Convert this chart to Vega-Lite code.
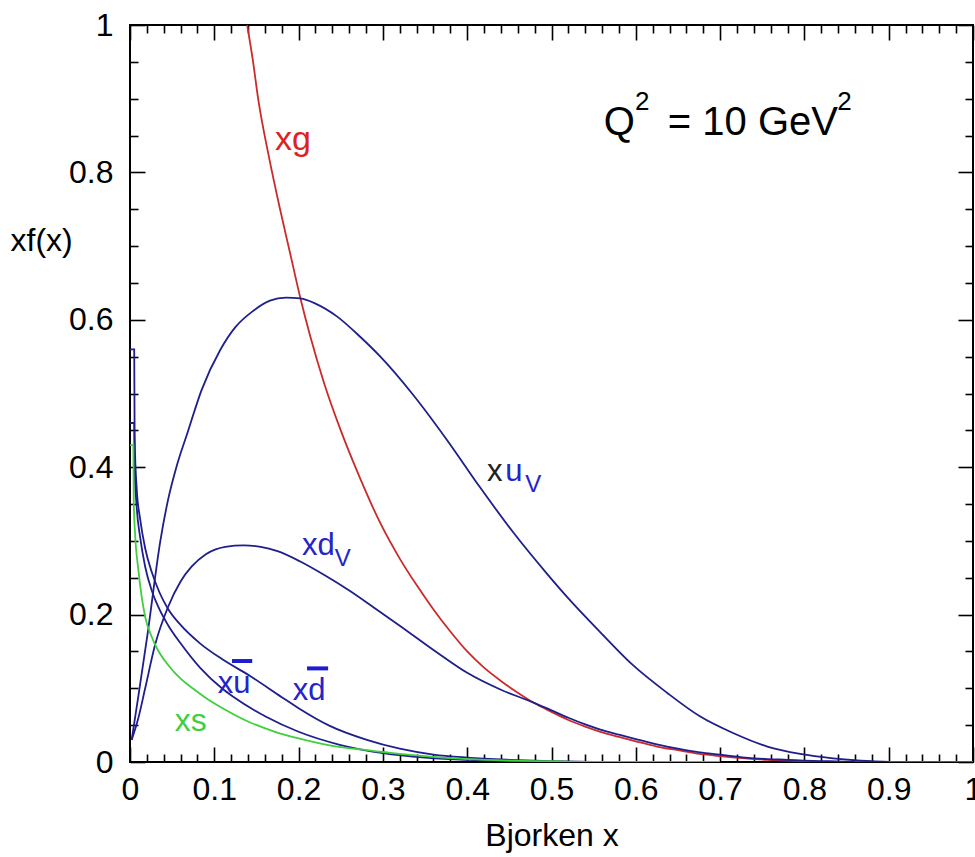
{
  "$schema": "https://vega.github.io/schema/vega-lite/v6.json",
  "width": 843,
  "height": 737,
  "autosize": {"type": "none"},
  "padding": {"left": 130, "top": 25, "right": 2, "bottom": 95},
  "background": "white",
  "config": {
    "font": "Liberation Sans",
    "view": {"stroke": "black", "strokeWidth": 2},
    "axis": {
      "domain": false,
      "grid": false,
      "labelFont": "Liberation Sans",
      "labelFontSize": 32,
      "labelColor": "black",
      "tickColor": "black",
      "tickWidth": 1.6,
      "titleFont": "Liberation Sans",
      "titleFontSize": 32,
      "titleFontWeight": "normal",
      "titleColor": "black"
    }
  },
  "datasets": {
    "curves": [
      {"s": "xg", "x": 0.139, "y": 1.0}, {"s": "xg", "x": 0.146, "y": 0.95}, {"s": "xg", "x": 0.152, "y": 0.90}, {"s": "xg", "x": 0.165, "y": 0.82}, {"s": "xg", "x": 0.178, "y": 0.75}, {"s": "xg", "x": 0.19, "y": 0.69}, {"s": "xg", "x": 0.202, "y": 0.63}, {"s": "xg", "x": 0.214, "y": 0.577}, {"s": "xg", "x": 0.23, "y": 0.515}, {"s": "xg", "x": 0.25, "y": 0.45}, {"s": "xg", "x": 0.27, "y": 0.393}, {"s": "xg", "x": 0.297, "y": 0.324}, {"s": "xg", "x": 0.32, "y": 0.276}, {"s": "xg", "x": 0.34, "y": 0.24}, {"s": "xg", "x": 0.36, "y": 0.207}, {"s": "xg", "x": 0.38, "y": 0.177}, {"s": "xg", "x": 0.4, "y": 0.150}, {"s": "xg", "x": 0.42, "y": 0.128}, {"s": "xg", "x": 0.44, "y": 0.110}, {"s": "xg", "x": 0.46, "y": 0.094}, {"s": "xg", "x": 0.478, "y": 0.081}, {"s": "xg", "x": 0.5, "y": 0.068}, {"s": "xg", "x": 0.52, "y": 0.057}, {"s": "xg", "x": 0.54, "y": 0.048}, {"s": "xg", "x": 0.558, "y": 0.041}, {"s": "xg", "x": 0.58, "y": 0.034}, {"s": "xg", "x": 0.6, "y": 0.028}, {"s": "xg", "x": 0.625, "y": 0.021}, {"s": "xg", "x": 0.65, "y": 0.016}, {"s": "xg", "x": 0.676, "y": 0.011}, {"s": "xg", "x": 0.7, "y": 0.008}, {"s": "xg", "x": 0.73, "y": 0.005}, {"s": "xg", "x": 0.756, "y": 0.003}, {"s": "xg", "x": 0.78, "y": 0.002}, {"s": "xg", "x": 0.8, "y": 0.001}, {"s": "xg", "x": 0.83, "y": 0.0}, {"s": "xg", "x": 1.0, "y": 0.0},

      {"s": "xuv", "x": 0.002, "y": 0.03}, {"s": "xuv", "x": 0.01, "y": 0.09}, {"s": "xuv", "x": 0.021, "y": 0.175}, {"s": "xuv", "x": 0.036, "y": 0.30}, {"s": "xuv", "x": 0.045, "y": 0.355}, {"s": "xuv", "x": 0.055, "y": 0.40}, {"s": "xuv", "x": 0.068, "y": 0.446}, {"s": "xuv", "x": 0.085, "y": 0.505}, {"s": "xuv", "x": 0.107, "y": 0.559}, {"s": "xuv", "x": 0.125, "y": 0.59}, {"s": "xuv", "x": 0.146, "y": 0.612}, {"s": "xuv", "x": 0.166, "y": 0.626}, {"s": "xuv", "x": 0.185, "y": 0.630}, {"s": "xuv", "x": 0.202, "y": 0.629}, {"s": "xuv", "x": 0.22, "y": 0.622}, {"s": "xuv", "x": 0.245, "y": 0.605}, {"s": "xuv", "x": 0.273, "y": 0.577}, {"s": "xuv", "x": 0.297, "y": 0.550}, {"s": "xuv", "x": 0.336, "y": 0.498}, {"s": "xuv", "x": 0.376, "y": 0.437}, {"s": "xuv", "x": 0.415, "y": 0.373}, {"s": "xuv", "x": 0.455, "y": 0.311}, {"s": "xuv", "x": 0.495, "y": 0.255}, {"s": "xuv", "x": 0.52, "y": 0.222}, {"s": "xuv", "x": 0.558, "y": 0.176}, {"s": "xuv", "x": 0.597, "y": 0.131}, {"s": "xuv", "x": 0.637, "y": 0.094}, {"s": "xuv", "x": 0.676, "y": 0.062}, {"s": "xuv", "x": 0.716, "y": 0.039}, {"s": "xuv", "x": 0.756, "y": 0.021}, {"s": "xuv", "x": 0.795, "y": 0.011}, {"s": "xuv", "x": 0.834, "y": 0.005}, {"s": "xuv", "x": 0.88, "y": 0.001}, {"s": "xuv", "x": 0.9, "y": 0.0},

      {"s": "xdv", "x": 0.002, "y": 0.03}, {"s": "xdv", "x": 0.01, "y": 0.06}, {"s": "xdv", "x": 0.018, "y": 0.10}, {"s": "xdv", "x": 0.03, "y": 0.16}, {"s": "xdv", "x": 0.045, "y": 0.21}, {"s": "xdv", "x": 0.06, "y": 0.245}, {"s": "xdv", "x": 0.073, "y": 0.265}, {"s": "xdv", "x": 0.09, "y": 0.282}, {"s": "xdv", "x": 0.113, "y": 0.292}, {"s": "xdv", "x": 0.135, "y": 0.294}, {"s": "xdv", "x": 0.155, "y": 0.292}, {"s": "xdv", "x": 0.175, "y": 0.286}, {"s": "xdv", "x": 0.202, "y": 0.272}, {"s": "xdv", "x": 0.23, "y": 0.254}, {"s": "xdv", "x": 0.261, "y": 0.232}, {"s": "xdv", "x": 0.29, "y": 0.209}, {"s": "xdv", "x": 0.32, "y": 0.185}, {"s": "xdv", "x": 0.36, "y": 0.152}, {"s": "xdv", "x": 0.4, "y": 0.121}, {"s": "xdv", "x": 0.44, "y": 0.098}, {"s": "xdv", "x": 0.478, "y": 0.081}, {"s": "xdv", "x": 0.5, "y": 0.070}, {"s": "xdv", "x": 0.52, "y": 0.060}, {"s": "xdv", "x": 0.54, "y": 0.051}, {"s": "xdv", "x": 0.558, "y": 0.044}, {"s": "xdv", "x": 0.58, "y": 0.037}, {"s": "xdv", "x": 0.6, "y": 0.031}, {"s": "xdv", "x": 0.625, "y": 0.024}, {"s": "xdv", "x": 0.65, "y": 0.018}, {"s": "xdv", "x": 0.676, "y": 0.013}, {"s": "xdv", "x": 0.7, "y": 0.010}, {"s": "xdv", "x": 0.73, "y": 0.006}, {"s": "xdv", "x": 0.756, "y": 0.004}, {"s": "xdv", "x": 0.78, "y": 0.003}, {"s": "xdv", "x": 0.8, "y": 0.002}, {"s": "xdv", "x": 0.83, "y": 0.001}, {"s": "xdv", "x": 0.86, "y": 0.0},

      {"s": "dbar", "x": 0.0, "y": 0.56}, {"s": "dbar", "x": 0.005, "y": 0.56}, {"s": "dbar", "x": 0.0055, "y": 0.44}, {"s": "dbar", "x": 0.008, "y": 0.37}, {"s": "dbar", "x": 0.012, "y": 0.33}, {"s": "dbar", "x": 0.018, "y": 0.29}, {"s": "dbar", "x": 0.026, "y": 0.257}, {"s": "dbar", "x": 0.035, "y": 0.23}, {"s": "dbar", "x": 0.045, "y": 0.208}, {"s": "dbar", "x": 0.06, "y": 0.186}, {"s": "dbar", "x": 0.083, "y": 0.161}, {"s": "dbar", "x": 0.11, "y": 0.139}, {"s": "dbar", "x": 0.142, "y": 0.117}, {"s": "dbar", "x": 0.18, "y": 0.088}, {"s": "dbar", "x": 0.2, "y": 0.073}, {"s": "dbar", "x": 0.237, "y": 0.049}, {"s": "dbar", "x": 0.281, "y": 0.030}, {"s": "dbar", "x": 0.32, "y": 0.018}, {"s": "dbar", "x": 0.36, "y": 0.010}, {"s": "dbar", "x": 0.4, "y": 0.006}, {"s": "dbar", "x": 0.45, "y": 0.003}, {"s": "dbar", "x": 0.5, "y": 0.001}, {"s": "dbar", "x": 0.55, "y": 0.0},

      {"s": "ubar", "x": 0.0, "y": 0.46}, {"s": "ubar", "x": 0.005, "y": 0.46}, {"s": "ubar", "x": 0.0055, "y": 0.40}, {"s": "ubar", "x": 0.008, "y": 0.345}, {"s": "ubar", "x": 0.012, "y": 0.305}, {"s": "ubar", "x": 0.018, "y": 0.265}, {"s": "ubar", "x": 0.026, "y": 0.232}, {"s": "ubar", "x": 0.035, "y": 0.207}, {"s": "ubar", "x": 0.045, "y": 0.186}, {"s": "ubar", "x": 0.06, "y": 0.161}, {"s": "ubar", "x": 0.083, "y": 0.128}, {"s": "ubar", "x": 0.11, "y": 0.099}, {"s": "ubar", "x": 0.122, "y": 0.089}, {"s": "ubar", "x": 0.162, "y": 0.061}, {"s": "ubar", "x": 0.2, "y": 0.041}, {"s": "ubar", "x": 0.25, "y": 0.023}, {"s": "ubar", "x": 0.3, "y": 0.012}, {"s": "ubar", "x": 0.35, "y": 0.006}, {"s": "ubar", "x": 0.4, "y": 0.003}, {"s": "ubar", "x": 0.45, "y": 0.001}, {"s": "ubar", "x": 0.5, "y": 0.0},

      {"s": "xs", "x": 0.0, "y": 0.43}, {"s": "xs", "x": 0.004, "y": 0.43}, {"s": "xs", "x": 0.0045, "y": 0.35}, {"s": "xs", "x": 0.006, "y": 0.31}, {"s": "xs", "x": 0.01, "y": 0.26}, {"s": "xs", "x": 0.018, "y": 0.197}, {"s": "xs", "x": 0.025, "y": 0.172}, {"s": "xs", "x": 0.033, "y": 0.152}, {"s": "xs", "x": 0.045, "y": 0.132}, {"s": "xs", "x": 0.06, "y": 0.113}, {"s": "xs", "x": 0.073, "y": 0.101}, {"s": "xs", "x": 0.09, "y": 0.087}, {"s": "xs", "x": 0.113, "y": 0.071}, {"s": "xs", "x": 0.14, "y": 0.055}, {"s": "xs", "x": 0.172, "y": 0.041}, {"s": "xs", "x": 0.2, "y": 0.032}, {"s": "xs", "x": 0.24, "y": 0.022}, {"s": "xs", "x": 0.281, "y": 0.016}, {"s": "xs", "x": 0.32, "y": 0.011}, {"s": "xs", "x": 0.36, "y": 0.007}, {"s": "xs", "x": 0.4, "y": 0.004}, {"s": "xs", "x": 0.45, "y": 0.002}, {"s": "xs", "x": 0.5, "y": 0.001}, {"s": "xs", "x": 0.55, "y": 0.0}, {"s": "xs", "x": 0.7, "y": 0.0}
    ],
    "bars": [
      {"x": 0.121, "x2": 0.145, "y": 0.137},
      {"x": 0.210, "x2": 0.235, "y": 0.127}
    ],
    "blueBig": [
      {"t": "u", "x": 0.445, "y": 0.381},
      {"t": "xd", "x": 0.204, "y": 0.281},
      {"t": "xu", "x": 0.104, "y": 0.094},
      {"t": "xd", "x": 0.193, "y": 0.084}
    ],
    "blueSub": [
      {"t": "V", "x": 0.469, "y": 0.366},
      {"t": "V", "x": 0.243, "y": 0.266}
    ],
    "red": [{"t": "xg", "x": 0.172, "y": 0.830}],
    "green": [{"t": "xs", "x": 0.053, "y": 0.042}],
    "black30": [{"t": "x", "x": 0.4235, "y": 0.381}],
    "black40": [
      {"t": "Q", "x": 0.562, "y": 0.851},
      {"t": "= 10 GeV", "x": 0.638, "y": 0.851}
    ],
    "blackSup": [
      {"t": "2", "x": 0.599, "y": 0.885},
      {"t": "2", "x": 0.839, "y": 0.885}
    ]
  },
  "layer": [
    {
      "data": {"name": "curves"},
      "mark": {"type": "line", "strokeWidth": 1.8, "clip": true, "interpolate": "monotone"},
      "encoding": {
        "x": {"field": "x", "type": "quantitative", "scale": {"domain": [0, 1], "nice": false, "zero": false},
          "axis": {"orient": "bottom", "values": [0, 0.1, 0.2, 0.3, 0.4, 0.5, 0.6, 0.7, 0.8, 0.9, 1], "format": "~g", "ticks": false, "labelPadding": 12, "labelFlush": false, "labelOverlap": false, "title": "Bjorken x", "titleY": 83, "titleBaseline": "alphabetic"}},
        "y": {"field": "y", "type": "quantitative", "scale": {"domain": [0, 1], "nice": false, "zero": false},
          "axis": {"orient": "left", "values": [0, 0.2, 0.4, 0.6, 0.8, 1], "format": "~g", "ticks": false, "labelPadding": 17, "labelFlush": false, "labelOverlap": false, "title": "xf(x)", "titleAngle": 0, "titleAlign": "left", "titleBaseline": "middle", "titleX": -120, "titleY": 215}},
        "color": {"field": "s", "type": "nominal", "legend": null,
          "scale": {"domain": ["xg", "xuv", "xdv", "dbar", "ubar", "xs"], "range": ["#cc2a2a", "#1e1e8c", "#1e1e8c", "#1e1e8c", "#1e1e8c", "#3fcf3f"]}},
        "order": {"value": null}
      }
    },
    {
      "data": {"name": "bars"},
      "mark": {"type": "rule", "strokeWidth": 4, "color": "#1c1cd0"},
      "encoding": {
        "x": {"field": "x", "type": "quantitative", "axis": {"orient": "bottom", "values": [0, 0.1, 0.2, 0.3, 0.4, 0.5, 0.6, 0.7, 0.8, 0.9, 1], "tickSize": -15, "labels": false, "title": null}},
        "x2": {"field": "x2"},
        "y": {"field": "y", "type": "quantitative", "axis": {"orient": "left", "values": [0, 0.2, 0.4, 0.6, 0.8, 1], "tickSize": -15, "labels": false, "title": null}}
      }
    },
    {
      "data": {"name": "blueBig"},
      "mark": {"type": "text", "fontSize": 31, "color": "#2424c8", "align": "left", "baseline": "alphabetic"},
      "encoding": {
        "x": {"field": "x", "type": "quantitative", "axis": {"orient": "bottom", "values": [0.02, 0.04, 0.06, 0.08, 0.12, 0.14, 0.16, 0.18, 0.22, 0.24, 0.26, 0.28, 0.32, 0.34, 0.36, 0.38, 0.42, 0.44, 0.46, 0.48, 0.52, 0.54, 0.56, 0.58, 0.62, 0.64, 0.66, 0.68, 0.72, 0.74, 0.76, 0.78, 0.82, 0.84, 0.86, 0.88, 0.92, 0.94, 0.96, 0.98], "tickSize": -8, "labels": false, "title": null}},
        "y": {"field": "y", "type": "quantitative", "axis": {"orient": "left", "values": [0.05, 0.1, 0.15, 0.25, 0.3, 0.35, 0.45, 0.5, 0.55, 0.65, 0.7, 0.75, 0.85, 0.9, 0.95], "tickSize": -8, "labels": false, "title": null}},
        "text": {"field": "t"}
      }
    },
    {
      "data": {"name": "blueSub"},
      "mark": {"type": "text", "fontSize": 24, "color": "#2424c8", "align": "left", "baseline": "alphabetic"},
      "encoding": {
        "x": {"field": "x", "type": "quantitative", "axis": {"orient": "top", "values": [0, 0.1, 0.2, 0.3, 0.4, 0.5, 0.6, 0.7, 0.8, 0.9, 1], "tickSize": -15, "labels": false, "title": null}},
        "y": {"field": "y", "type": "quantitative", "axis": {"orient": "right", "values": [0, 0.2, 0.4, 0.6, 0.8, 1], "tickSize": -15, "labels": false, "title": null}},
        "text": {"field": "t"}
      }
    },
    {
      "data": {"name": "red"},
      "mark": {"type": "text", "fontSize": 34, "color": "#dd2222", "align": "left", "baseline": "alphabetic"},
      "encoding": {
        "x": {"field": "x", "type": "quantitative", "axis": {"orient": "top", "values": [0.02, 0.04, 0.06, 0.08, 0.12, 0.14, 0.16, 0.18, 0.22, 0.24, 0.26, 0.28, 0.32, 0.34, 0.36, 0.38, 0.42, 0.44, 0.46, 0.48, 0.52, 0.54, 0.56, 0.58, 0.62, 0.64, 0.66, 0.68, 0.72, 0.74, 0.76, 0.78, 0.82, 0.84, 0.86, 0.88, 0.92, 0.94, 0.96, 0.98], "tickSize": -8, "labels": false, "title": null}},
        "y": {"field": "y", "type": "quantitative", "axis": {"orient": "right", "values": [0.05, 0.1, 0.15, 0.25, 0.3, 0.35, 0.45, 0.5, 0.55, 0.65, 0.7, 0.75, 0.85, 0.9, 0.95], "tickSize": -8, "labels": false, "title": null}},
        "text": {"field": "t"}
      }
    },
    {
      "data": {"name": "green"},
      "mark": {"type": "text", "fontSize": 32, "color": "#3fcf3f", "align": "left", "baseline": "alphabetic"},
      "encoding": {
        "x": {"field": "x", "type": "quantitative", "axis": null},
        "y": {"field": "y", "type": "quantitative", "axis": null},
        "text": {"field": "t"}
      }
    },
    {
      "data": {"name": "black30"},
      "mark": {"type": "text", "fontSize": 31, "color": "#222222", "align": "left", "baseline": "alphabetic"},
      "encoding": {
        "x": {"field": "x", "type": "quantitative", "axis": null},
        "y": {"field": "y", "type": "quantitative", "axis": null},
        "text": {"field": "t"}
      }
    },
    {
      "data": {"name": "black40"},
      "mark": {"type": "text", "fontSize": 40, "color": "black", "align": "left", "baseline": "alphabetic"},
      "encoding": {
        "x": {"field": "x", "type": "quantitative", "axis": null},
        "y": {"field": "y", "type": "quantitative", "axis": null},
        "text": {"field": "t"}
      }
    },
    {
      "data": {"name": "blackSup"},
      "mark": {"type": "text", "fontSize": 26, "color": "black", "align": "left", "baseline": "alphabetic"},
      "encoding": {
        "x": {"field": "x", "type": "quantitative", "axis": null},
        "y": {"field": "y", "type": "quantitative", "axis": null},
        "text": {"field": "t"}
      }
    }
  ],
  "resolve": {"axis": {"x": "independent", "y": "independent"}}
}
